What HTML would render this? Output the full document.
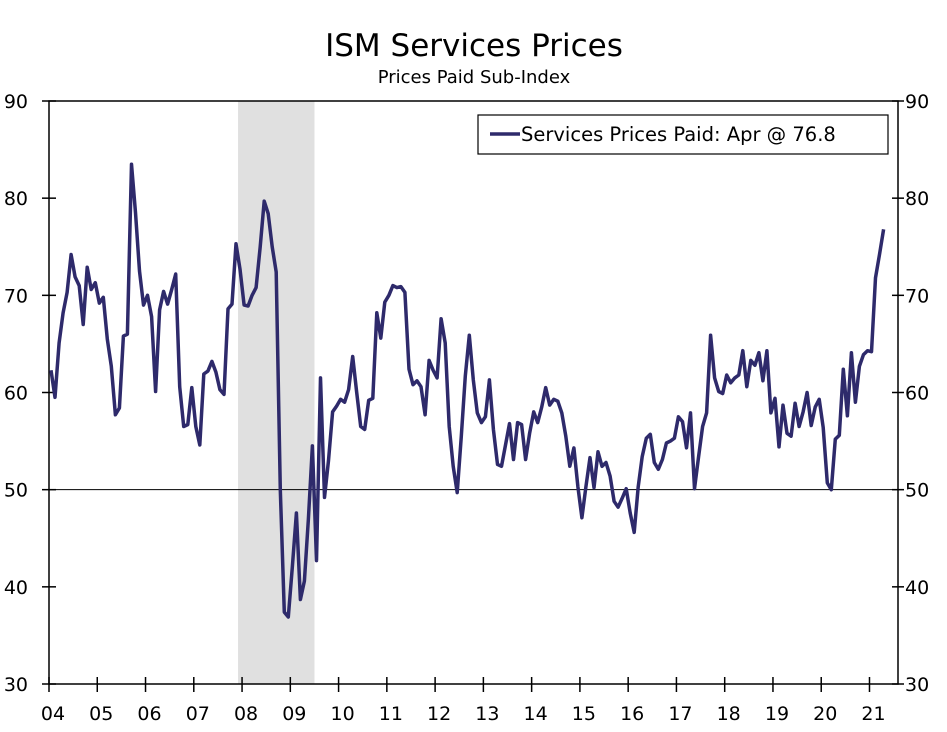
<!DOCTYPE html>
<html><head><meta charset="utf-8"><style>
body{margin:0;background:#fff;}
svg text{font-family:"DejaVu Sans","Liberation Sans",sans-serif;fill:#000;}
</style></head><body>
<svg id="chart" width="947" height="727" xmlns="http://www.w3.org/2000/svg">
<rect x="0" y="0" width="947" height="727" fill="#fff"/>
<text x="474" y="56" font-size="31" text-anchor="middle">ISM Services Prices</text>
<text x="474" y="83" font-size="18" text-anchor="middle">Prices Paid Sub-Index</text>
<g id="plot"></g>
</svg>
<script>
const yTicks = [30,40,50,60,70,80,90];
const yearLabels = ["04","05","06","07","08","09","10","11","12","13","14","15","16","17","18","19","20","21"];
const recessionStart = 47; // month index Dec 2007
const recessionEnd = 66;   // month index Jun 2009
const series = [
62.3,59.5,65.1,68.2,70.3,74.2,71.9,71,67,72.9,70.6,71.3,
69.2,69.8,65.5,62.7,57.7,58.4,65.8,66,83.5,78.5,72.5,69,
70,67.8,60.1,68.5,70.4,69.1,70.6,72.2,60.6,56.5,56.7,60.5,
56.5,54.6,61.9,62.2,63.2,62.1,60.3,59.8,68.6,69.1,75.3,72.7,
69,68.9,70,70.8,75,79.7,78.4,75,72.4,50,37.4,36.9,
42,47.6,38.7,40.6,47,54.5,42.7,61.5,49.2,53,58,58.6,
59.3,59,60.3,63.7,60,56.5,56.2,59.2,59.4,68.2,65.6,69.3,
70,71,70.8,70.9,70.3,62.4,60.8,61.2,60.6,57.7,63.3,62.3,
61.5,67.6,65.1,56.5,52.4,49.7,55.5,61.7,65.9,61.3,57.9,56.9,
57.5,61.3,56.2,52.6,52.4,54.6,56.8,53.1,56.9,56.7,53.1,55.8,
58,56.9,58.5,60.5,58.7,59.3,59.1,57.9,55.5,52.4,54.3,50.3,
47.1,50.3,53.3,50.2,53.9,52.4,52.8,51.4,48.8,48.2,49.1,50.1,
47.6,45.6,50.3,53.4,55.3,55.7,52.8,52.1,53.1,54.8,55,55.3,
57.5,57,54.3,57.9,50.1,53.4,56.5,57.9,65.9,61.5,60.1,59.9,
61.8,61,61.5,61.8,64.3,60.6,63.3,62.8,64.1,61.2,64.3,57.9,
59.4,54.4,58.7,55.8,55.5,58.9,56.5,58,60,56.6,58.5,59.3,
56.4,50.7,50,55.2,55.6,62.4,57.6,64.1,59,62.7,63.9,64.3,
64.2,71.8,74.2,76.8];
const legendLabel = "Services Prices Paid: Apr @ 76.8";

const NS="http://www.w3.org/2000/svg";
const L=49,R=898,T=101,B=684,MW=4.022;
const ymin=30,ymax=90;
function yScale(v){return B-(v-ymin)/(ymax-ymin)*(B-T);}
function xMonth(i){return L+(i+0.5)*MW;}
function xYear(k){return L+k*12*MW;}
const g=document.getElementById('plot');
function mk(tag,attrs,parent){const e=document.createElementNS(NS,tag);for(const k in attrs)e.setAttribute(k,attrs[k]);(parent||g).appendChild(e);return e;}

// recession
let rec=mk('rect',{x:xMonth(recessionStart)-2,y:T,width:xMonth(recessionEnd)-xMonth(recessionStart),height:B-T,fill:'#e0e0e0'});



// 50 line
let ref=mk('line',{x1:L,x2:R,y1:yScale(50),y2:yScale(50),stroke:'#000','stroke-width':1});



// axes frame
let fr=mk('path',{d:`M${L},${T}H${R}V${B}H${L}Z`,fill:'none',stroke:'#000','stroke-width':1.5});



yTicks.forEach(v=>{
  const y=yScale(v);
  let t1=mk('line',{x1:L-7,x2:L+7,y1:y,y2:y,stroke:'#000','stroke-width':1.5});
  
  
  let t2=mk('line',{x1:R-6,x2:R+6,y1:y,y2:y,stroke:'#000','stroke-width':1.5});
  
  
  let a=mk('text',{x:28,y:y+7,'font-size':19,'text-anchor':'end'});a.textContent=v;
  
  
  let b=mk('text',{x:905,y:y+7,'font-size':19});b.textContent=v;
  
  
});
yearLabels.forEach((lab,k)=>{
  const x=xYear(k);
  let t=mk('line',{x1:x,x2:x,y1:B-7,y2:B+8,stroke:'#000','stroke-width':1.5});
  
  
  let tx=mk('text',{x:x+4,y:B+36,'font-size':19,'text-anchor':'middle'});tx.textContent=lab;
  
  
});

// series line
const d=series.map((v,i)=>(i?'L':'M')+xMonth(i).toFixed(1)+','+yScale(v).toFixed(1)).join('');
let ln=mk('path',{d:d,fill:'none',stroke:'#2e2a6b','stroke-width':3.5,'stroke-linejoin':'round'});



// legend
let lg=mk('g',{});


let lb=mk('rect',{x:478,y:115,width:410,height:39,fill:'#fff',stroke:'#000','stroke-width':1.2},lg);


let ls=mk('line',{x1:490,x2:520,y1:134,y2:134,stroke:'#2e2a6b','stroke-width':3.5},lg);


let lt=mk('text',{x:521,y:141,'font-size':19.5},lg);lt.textContent=legendLabel;


</script>
</body></html>
